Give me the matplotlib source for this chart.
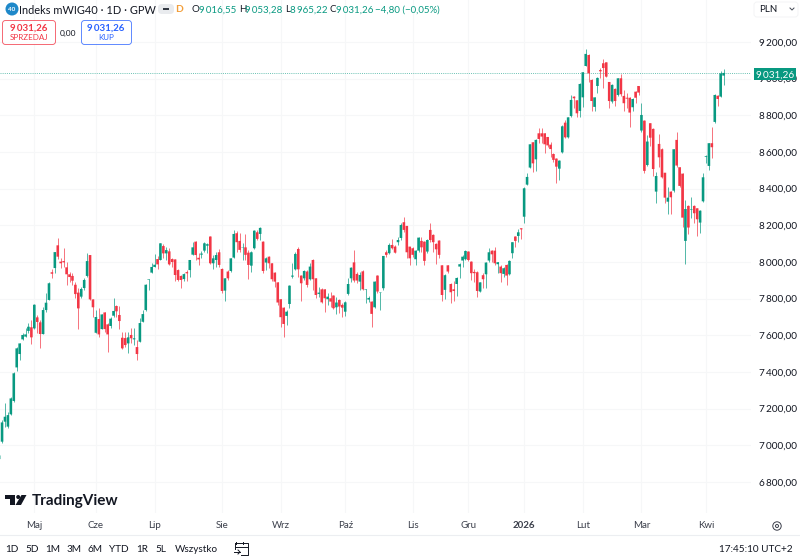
"""Daily candlestick chart of the mWIG40 index in a trading terminal layout."""

import matplotlib

matplotlib.use("Agg")
import matplotlib.pyplot as plt
import numpy as np
from matplotlib.patches import Circle, FancyBboxPatch, Polygon, Rectangle

plt.rcParams["font.family"] = ["Lato", "DejaVu Sans"]

opens = [
    6925,
    7020, 7129, 7102, 7169, 7242, 7425, 7498, 7578, 7593, 7624,
    7644, 7638, 7698, 7671, 7607, 7738, 7793, 7944, 7967, 8091,
    8002, 8005, 7971, 7933, 7924, 7876, 7833, 7811, 7858, 7924,
    8038, 7796, 7614, 7689, 7634, 7725, 7660, 7651, 7707, 7760,
    7711, 7587, 7585, 7556, 7602, 7578, 7536, 7565, 7674, 7738,
    7902, 7942, 7973, 8016, 8011, 8087, 8047, 8058, 8016, 8014,
    7956, 7924, 7907, 7945, 7956, 8040, 8111, 8023, 8040, 8062,
    8089, 8139, 7993, 8011, 8053, 7962, 7844, 7948, 7951, 8024,
    8157, 8115, 8078, 8080, 8051, 7980, 8075, 8162, 8153, 8111,
    7997, 8029, 7993, 7942, 7889, 7797, 7751, 7706, 7771, 7920,
    7960, 8071, 7926, 7911, 7948, 7906, 8011, 7911, 7826, 7851,
    7851, 7797, 7802, 7817, 7753, 7793, 7766, 7729, 7826, 7911,
    7998, 7935, 7893, 7949, 7848, 7795, 7784, 7753, 7926, 7833,
    7857, 8053, 8048, 8093, 8084, 8108, 8131, 8217, 8197, 8084,
    8075, 8015, 8062, 8115, 8111, 8057, 8175, 8148, 8099, 8117,
    7982, 7848, 7982, 7880, 7851, 7880, 7975, 8008, 8015, 8057,
    8002, 7946, 7944, 7839, 7928, 7933, 8008, 8062, 8062, 7988,
    7975, 7935, 7984, 7933, 8048, 8139, 8142, 8184, 8247, 8422,
    8515, 8653, 8560, 8702, 8702, 8702, 8682, 8640, 8589, 8564,
    8509, 8598, 8760, 8680, 8796, 8902, 8882, 8824, 8898, 9069,
    9129, 8993, 8846, 8960, 9047, 9084, 9089, 8982, 8875, 8944,
    8911, 9002, 8906, 8896, 8896, 8844, 8929, 8960, 8717, 8771,
    8529, 8757, 8726, 8384, 8644, 8615, 8487, 8329, 8384, 8389,
    8666, 8517, 8482, 8115, 8306, 8286, 8306, 8293, 8215, 8331,
    8573, 8524, 8648, 8764, 8907, 8902, 9016.55,
]
highs = [
    6950,
    7138, 7229, 7184, 7262, 7402, 7538, 7558, 7611, 7642, 7665,
    7684, 7770, 7711, 7684, 7753, 7829, 7893, 7960, 8056, 8129,
    8020, 8074, 8002, 7947, 7938, 7893, 7856, 7865, 7911, 8051,
    8040, 7798, 7738, 7747, 7718, 7727, 7665, 7702, 7802, 7765,
    7760, 7620, 7620, 7620, 7638, 7638, 7574, 7693, 7738, 7880,
    7907, 7993, 8042, 8033, 8105, 8098, 8084, 8074, 8020, 8016,
    7960, 7929, 7942, 7956, 8013, 8111, 8114, 8047, 8062, 8111,
    8102, 8142, 8038, 8057, 8069, 7966, 7913, 7957, 8024, 8175,
    8171, 8157, 8102, 8151, 8066, 8062, 8175, 8175, 8189, 8117,
    8029, 8033, 7997, 7948, 7893, 7797, 7757, 7739, 7875, 7993,
    8053, 8080, 7929, 7957, 7957, 7993, 8015, 7911, 7866, 7857,
    7851, 7829, 7839, 7820, 7811, 7797, 7775, 7789, 7911, 7975,
    8066, 7948, 7948, 7957, 7853, 7815, 7789, 7897, 7929, 7839,
    8035, 8066, 8102, 8124, 8093, 8139, 8215, 8244, 8197, 8084,
    8084, 8066, 8139, 8135, 8115, 8124, 8215, 8153, 8106, 8120,
    7984, 7933, 7984, 7884, 7899, 7920, 7993, 8039, 8066, 8062,
    8006, 7960, 7951, 7893, 7939, 8000, 8075, 8066, 8080, 8002,
    7984, 7971, 7988, 8011, 8111, 8142, 8179, 8184, 8411, 8484,
    8644, 8653, 8669, 8729, 8729, 8702, 8684, 8656, 8593, 8566,
    8556, 8747, 8775, 8793, 8911, 8906, 8884, 8975, 9035, 9160,
    9133, 8996, 8902, 9007, 9056, 9107, 9093, 8984, 8969, 8947,
    9006, 9024, 8938, 8924, 8898, 8893, 8935, 8962, 8866, 8775,
    8693, 8757, 8729, 8489, 8698, 8620, 8487, 8411, 8388, 8617,
    8707, 8520, 8484, 8338, 8311, 8357, 8311, 8297, 8284, 8487,
    8584, 8651, 8735, 8915, 8911, 9044, 9053.28,
]
lows = [
    6920,
    7015, 7102, 7093, 7165, 7238, 7407, 7465, 7574, 7591, 7611,
    7553, 7635, 7611, 7529, 7605, 7729, 7791, 7911, 7938, 8014,
    7969, 7974, 7874, 7893, 7874, 7802, 7634, 7802, 7847, 7920,
    7793, 7702, 7611, 7589, 7632, 7620, 7511, 7638, 7702, 7702,
    7633, 7524, 7538, 7502, 7556, 7547, 7465, 7562, 7672, 7734,
    7847, 7938, 7971, 7962, 8009, 8020, 8011, 7984, 7975, 7898,
    7898, 7860, 7898, 7898, 7920, 8038, 8011, 7984, 8020, 8057,
    8048, 7988, 7960, 7975, 7975, 7833, 7789, 7902, 7948, 8020,
    8057, 8057, 8011, 8011, 7906, 7948, 8071, 8120, 8120, 7939,
    7957, 7966, 7899, 7862, 7766, 7648, 7593, 7657, 7748, 7911,
    7957, 7920, 7789, 7902, 7866, 7902, 7848, 7802, 7811, 7775,
    7729, 7766, 7757, 7742, 7717, 7720, 7702, 7706, 7820, 7893,
    7893, 7884, 7848, 7848, 7779, 7784, 7648, 7748, 7833, 7739,
    7848, 8026, 8044, 8069, 8048, 8093, 8120, 8166, 8020, 7984,
    8029, 7984, 8057, 8057, 7984, 8051, 8111, 8057, 7989, 8020,
    7789, 7797, 7939, 7775, 7789, 7815, 7911, 7975, 8011, 8008,
    7902, 7893, 7808, 7835, 7857, 7857, 8002, 8002, 7984, 7939,
    7893, 7920, 7875, 7929, 8020, 8080, 8111, 8124, 8215, 8420,
    8511, 8489, 8498, 8647, 8651, 8596, 8629, 8575, 8547, 8429,
    8447, 8596, 8675, 8675, 8793, 8838, 8789, 8793, 8847, 9069,
    8984, 8826, 8824, 8924, 9002, 8947, 9007, 8838, 8866, 8851,
    8906, 8907, 8826, 8838, 8735, 8826, 8866, 8911, 8707, 8484,
    8526, 8633, 8471, 8320, 8520, 8457, 8320, 8260, 8262, 8384,
    8520, 8411, 8189, 7988, 8153, 8238, 8211, 8142, 8157, 8329,
    8538, 8502, 8569, 8760, 8853, 8900, 8965.22,
]
closes = [
    6945,
    7125, 7156, 7165, 7256, 7393, 7529, 7556, 7602, 7605, 7647,
    7589, 7767, 7673, 7607, 7738, 7778, 7884, 7936, 8054, 8029,
    7993, 7998, 7933, 7918, 7898, 7825, 7747, 7853, 7902, 8005,
    7796, 7753, 7700, 7605, 7714, 7634, 7605, 7691, 7733, 7731,
    7678, 7529, 7547, 7589, 7584, 7584, 7498, 7667, 7716, 7876,
    7905, 7973, 7985, 7987, 8102, 8047, 8065, 7987, 8000, 7929,
    7902, 7902, 7934, 7938, 8011, 8080, 8038, 8014, 8046, 8102,
    8097, 7993, 8020, 8038, 7984, 7842, 7911, 7911, 8020, 8153,
    8108, 8066, 8080, 8039, 7984, 8053, 8171, 8126, 8186, 7951,
    8020, 7993, 7906, 7893, 7779, 7699, 7662, 7729, 7871, 7926,
    8044, 7960, 7884, 7951, 7875, 7975, 7906, 7820, 7833, 7780,
    7802, 7811, 7784, 7748, 7779, 7757, 7751, 7780, 7880, 7969,
    7899, 7899, 7929, 7851, 7851, 7804, 7717, 7893, 7839, 7835,
    8033, 8039, 8093, 8075, 8051, 8120, 8202, 8175, 8053, 8020,
    8039, 8062, 8133, 8080, 8006, 8120, 8120, 8108, 8069, 8039,
    7820, 7928, 7948, 7835, 7842, 7913, 7988, 8029, 8060, 8011,
    7939, 7939, 7842, 7889, 7906, 7997, 8053, 8042, 7993, 7999,
    7939, 7966, 7926, 8006, 8108, 8115, 8162, 8178, 8402, 8464,
    8642, 8538, 8666, 8671, 8684, 8642, 8636, 8616, 8557, 8520,
    8553, 8740, 8680, 8789, 8884, 8893, 8811, 8971, 9035, 9135,
    9029, 8878, 8898, 9004, 9040, 9058, 9011, 8878, 8966, 8878,
    9002, 8915, 8866, 8891, 8815, 8889, 8896, 8924, 8802, 8497,
    8657, 8678, 8507, 8469, 8571, 8462, 8351, 8351, 8353, 8615,
    8526, 8415, 8242, 8289, 8188, 8289, 8266, 8233, 8280, 8462,
    8577, 8648, 8626, 8911, 8889, 9029, 9031.26,
]

month_labels = ["Maj", "Cze", "Lip", "Sie", "Wrz", "Paź", "Lis", "Gru", "2026", "Lut", "Mar", "Kwi"]
month_starts = [12, 33, 53, 76, 96, 118, 141, 160, 179, 199, 219, 241]
price_ticks = [6800, 7000, 7200, 7400, 7600, 7800, 8000, 8200, 8400, 8600, 8800, 9000, 9200]
ranges = ["1D", "5D", "1M", "3M", "6M", "YTD", "1R", "5L", "Wszystko"]
last_price = 9031.26

GREEN = "#089981"
RED = "#F23645"
BLUE = "#2962FF"
TEXT = "#131722"
GRID = "#f6f7f8"
THIN = "\u2009"


def fmt_price(v):
    return f"{v:,.2f}".replace(",", THIN).replace(".", ",")


fig = plt.figure(figsize=(8, 5.6), dpi=100, facecolor="white")

# price pane: 751 x 513 px in the top-left corner
ax = fig.add_axes([0, 1 - 513 / 560, 751 / 800, 513 / 560])
o, h, l, c = map(np.array, (opens, highs, lows, closes))
x = np.arange(len(o))
up = c >= o
colors = np.where(up, GREEN, RED)
ax.vlines(x, l, h, colors=colors, lw=0.7, alpha=0.7, zorder=3)
bars = ax.bar(x, np.abs(c - o), bottom=np.minimum(o, c), width=0.88, color=colors, lw=0, zorder=4)
for b in bars:
    b.set_snap(False)

ax.plot([0.3, 256.35], [last_price, last_price], color=GREEN, lw=0.7, ls=(0, (1, 1.2)), alpha=0.6, zorder=2)

ax.set_xlim(0.3, 256.35)
ax.set_ylim(6631, 9429)
ax.set_xticks(month_starts, month_labels)
ax.set_yticks(price_ticks, [fmt_price(v) for v in price_ticks])
ax.yaxis.tick_right()
ax.grid(True, color=GRID, lw=0.8, zorder=0)
ax.set_axisbelow(True)
ax.tick_params(axis="x", length=0, pad=6, labelsize=7, labelcolor="#3a3e4a")
ax.tick_params(axis="y", length=0, pad=5.5, labelsize=7.2, labelcolor=TEXT)
for lbl in ax.get_xticklabels():
    if lbl.get_text() == "2026":
        lbl.set_fontweight("bold")
for side in ax.spines.values():
    side.set_visible(False)

# overlay in pixel units for the terminal chrome
ui = fig.add_axes([0, 0, 1, 1], facecolor="none")
ui.set_xlim(0, 800)
ui.set_ylim(560, 0)
ui.axis("off")


def label(px, py, s, size=8.0, color=TEXT, ha="left", weight="normal"):
    ui.text(px, py, s, fontsize=size, color=color, ha=ha, va="center_baseline", fontweight=weight)


# symbol line
ui.add_patch(Circle((12, 9), 6.5, color="#1E88C9", lw=0))
label(12, 9, "40", size=4.6, color="white", ha="center", weight="bold")
label(19, 9, "Indeks mWIG40 · 1D · GPW", size=7.9)
ui.add_patch(FancyBboxPatch((158, 4), 16, 10, boxstyle="round,pad=0,rounding_size=4", fc="#e9ebee", ec="none"))
ui.add_patch(Rectangle((162.5, 8), 6, 1.6, fc="#333842", ec="none"))
label(178.5, 9, "D", size=7.4, color="#F29D38", ha="center", weight="bold")

ohlc_parts = [
    (192, "O", TEXT), (199, fmt_price(opens[-1]), GREEN),
    (239, "H", TEXT), (245, fmt_price(highs[-1]), GREEN),
    (285, "L", TEXT), (290, fmt_price(lows[-1]), GREEN),
    (329, "C", TEXT), (336, fmt_price(closes[-1]), GREEN),
    (375, "\u22124,80 (\u22120,05%)", GREEN),
]
for px, s, col in ohlc_parts:
    label(px, 9, s, size=7.0, color=col)

# sell / buy buttons
ui.add_patch(FancyBboxPatch((2.5, 20.5), 53, 24, boxstyle="round,pad=0,rounding_size=3", fc="white", ec=RED, lw=0.7, alpha=0.75))
label(29, 27.5, fmt_price(last_price), size=7, color=RED, ha="center", weight="bold")
label(29, 37.5, "SPRZEDAJ", size=5.8, color=RED, ha="center")
label(68, 32.5, "0,00", size=6, ha="center")
ui.add_patch(FancyBboxPatch((81.5, 20.5), 50, 24, boxstyle="round,pad=0,rounding_size=3", fc="white", ec=BLUE, lw=0.7, alpha=0.75))
label(106, 27.5, fmt_price(last_price), size=7, color=BLUE, ha="center", weight="bold")
label(106, 37.5, "KUP", size=5.8, color=BLUE, ha="center")

# currency selector and last price tag
ui.add_patch(FancyBboxPatch((754, 2), 44, 15, boxstyle="round,pad=0,rounding_size=3", fc="white", ec="#f3f4f5", lw=0.7))
label(759, 9, "PLN", size=7)
ui.plot([790, 792, 794], [8, 10, 8], color="#444a55", lw=0.7)
ui.add_patch(Rectangle((754, 68), 42, 12, fc=GREEN, ec="none", zorder=5))
ui.text(775, 74, fmt_price(last_price), fontsize=7.2, color="white", ha="center", va="center_baseline", zorder=6)

# logo
ui.add_patch(Polygon([(5, 495), (15, 495), (15, 505), (10, 505), (10, 499), (5, 499)], fc="#131722", ec="none"))
ui.add_patch(Circle((18.2, 497), 2.0, fc="#131722", ec="none"))
ui.add_patch(Polygon([(21.5, 495), (26.5, 495), (21, 505), (15.5, 505)], fc="#131722", ec="none"))
label(31.5, 500, "TradingView", size=11, weight="bold")

# settings gear on the time axis
ui.add_patch(Circle((777, 526), 4.2, fc="none", ec="#3a3e4a", lw=0.7))
ui.add_patch(Circle((777, 526), 1.5, fc="none", ec="#3a3e4a", lw=0.7))

# range bar
ui.plot([0, 800], [535, 535], color="#eceef1", lw=0.8)
range_centers = [12, 32, 53, 74, 95, 119, 142, 161, 196]
for cx, s in zip(range_centers, ranges):
    label(cx, 549, s, size=7.2, ha="center")

# calendar icon
ui.plot([236, 236], [542, 544], color=TEXT, lw=0.7)
ui.plot([243, 243], [542, 544], color=TEXT, lw=0.7)
ui.plot([235, 248, 248, 241], [543, 543, 555, 555], color=TEXT, lw=0.7)
ui.plot([235, 235], [543, 549], color=TEXT, lw=0.7)
ui.plot([235, 248], [547, 547], color=TEXT, lw=0.7)
ui.plot([234, 240], [552, 552], color=TEXT, lw=0.7)
ui.plot([238, 240, 238], [550, 552, 554], color=TEXT, lw=0.7)

label(793, 549, "17:45:10 UTC+2", size=7.2, ha="right")

fig.savefig("out.png", dpi=100)
